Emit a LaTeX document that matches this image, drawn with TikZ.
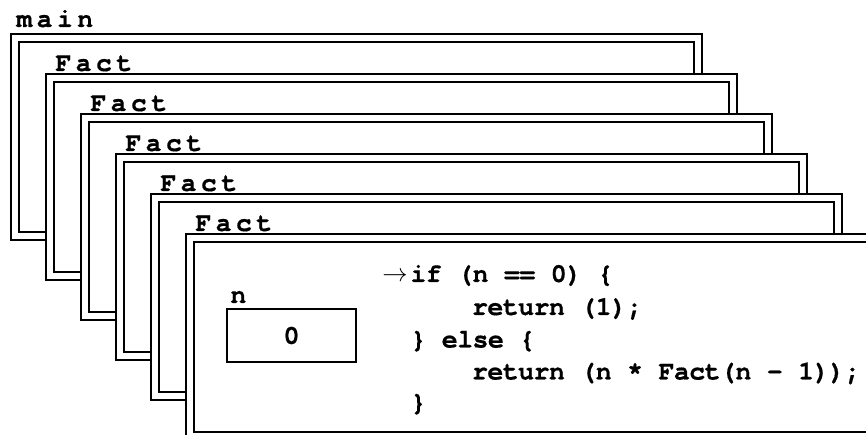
\documentclass[tikz,border=0pt]{standalone}
\usepackage{fontspec}
\newfontfamily\codefont{texgyrecursor}[Extension=.otf, UprightFont=*-regular, BoldFont=*-bold, BoldFeatures={FakeBold=0.5}, LetterSpace=-2.4]
\newfontfamily\labelfont{texgyrecursor}[Extension=.otf, UprightFont=*-regular, BoldFont=*-bold, BoldFeatures={FakeBold=0.5}, LetterSpace=16]
\tikzset{
  outerframe/.style={line width=1.4pt, fill=white},
  innerframe/.style={line width=1.4pt},
  framelabel/.style={anchor=base west, inner sep=0pt, font=\labelfont\bfseries\fontsize{15.2}{17}\selectfont},
  codeline/.style={anchor=base west, inner sep=0pt, font=\codefont\bfseries\fontsize{15.2}{17}\selectfont},
  valbox/.style={draw, line width=1.4pt, minimum width=2.58cm, minimum height=1.06cm, inner sep=0pt, font=\codefont\bfseries\fontsize{15.2}{17}\selectfont}
}
\begin{document}
\begin{tikzpicture}[x=0.02cm, y=-0.02cm]
\useasboundingbox (0,0) rectangle (866,435);
\clip (0,0) rectangle (866,435);

\node[framelabel] (lmain) at (16,27) {main};
\draw[outerframe] (11,34) rectangle (702,240);
\draw[innerframe] (19,42) rectangle (694,232);

\node[framelabel] (lfact1) at (55,71) {Fact};
\draw[outerframe] (46,74) rectangle (737,280);
\draw[innerframe] (54,82) rectangle (729,272);

\node[framelabel] (lfact2) at (90,111) {Fact};
\draw[outerframe] (81,114) rectangle (772,320);
\draw[innerframe] (89,122) rectangle (764,312);

\node[framelabel] (lfact3) at (125,151) {Fact};
\draw[outerframe] (116,154) rectangle (807,360);
\draw[innerframe] (124,162) rectangle (799,352);

\node[framelabel] (lfact4) at (160,191) {Fact};
\draw[outerframe] (151,194) rectangle (842,400);
\draw[innerframe] (159,202) rectangle (834,392);

\node[framelabel] (lfact5) at (195,231) {Fact};
\draw[outerframe] (186,234) rectangle (877,440);
\draw[innerframe] (194,242) rectangle (869,432);

\node[codeline] (nname) at (230,303) {n};
\node[valbox] (nval) at (291.5,335.5) {0};

\node[anchor=base east, inner sep=0pt, font=\fontsize{14.6}{17}\selectfont] (pc) at (408,282) {$\rightarrow$};
\node[codeline] (code1) at (410,282) {if (n == 0) \{};
\node[codeline] (code2) at (471.6,315) {return (1);};
\node[codeline] (code3) at (410,347.5) {\} else \{};
\node[codeline] (code4) at (471.6,379.5) {return (n * Fact(n - 1));};
\node[codeline] (code5) at (410,410.5) {\}};
\end{tikzpicture}
\end{document}
